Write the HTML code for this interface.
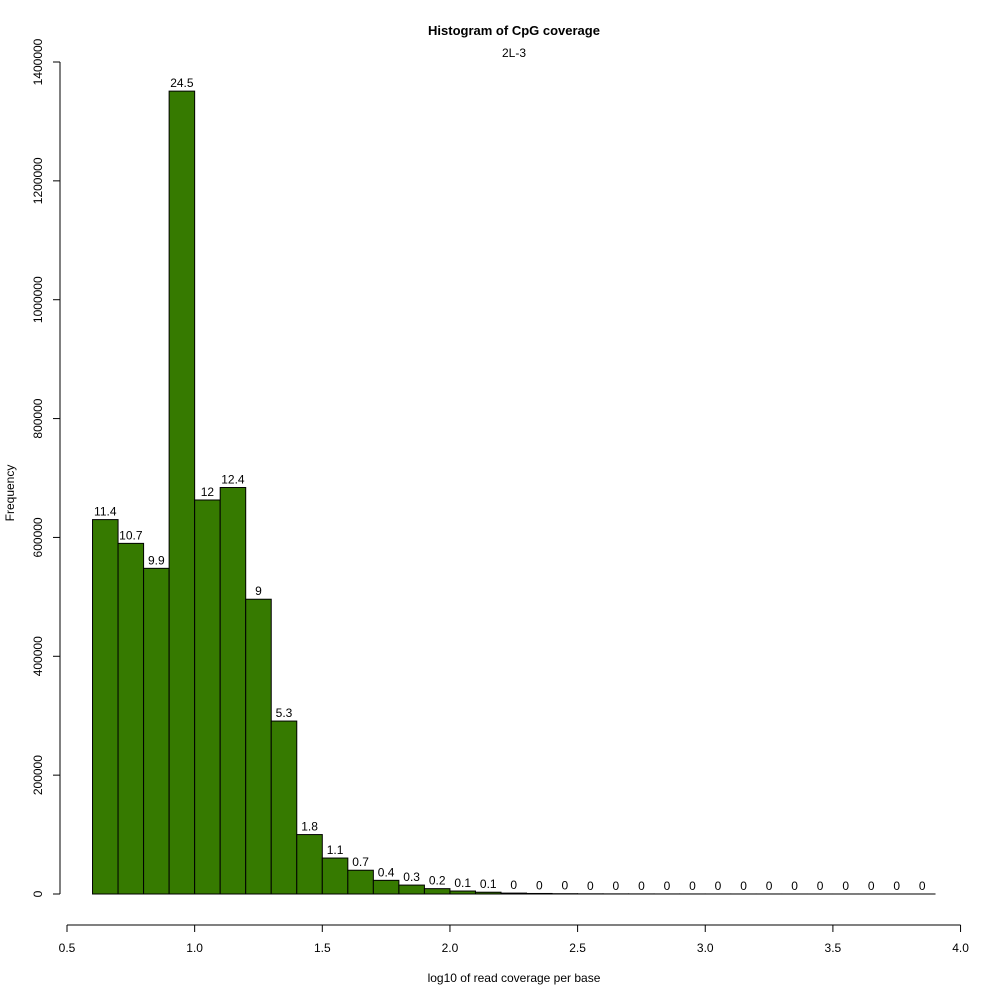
<!DOCTYPE html>
<html><head><meta charset="utf-8"><style>
body{margin:0;background:#fff}
svg text{font-family:"Liberation Sans",Arial,sans-serif;fill:#000}
</style></head><body>
<svg id="chart" width="1000" height="1000" xmlns="http://www.w3.org/2000/svg">
<rect width="1000" height="1000" fill="#fff"/>
<text x="514" y="35" font-size="13" font-weight="bold" text-anchor="middle">Histogram of CpG coverage</text>
<text x="514" y="57" font-size="12" text-anchor="middle">2L-3</text>
<text x="514" y="982" font-size="12" text-anchor="middle">log10 of read coverage per base</text>
<text x="0" y="0" font-size="12" text-anchor="middle" transform="translate(14,493) rotate(-90)">Frequency</text>
<g id="bars"></g><g id="labels"></g><g id="xaxis"></g><g id="yaxis"></g>
</svg>
<script>
const binStarts=[0.6,0.7,0.8,0.9,1.0,1.1,1.2,1.3,1.4,1.5,1.6,1.7,1.8,1.9,2.0,2.1,2.2,2.3,2.4,2.5,2.6,2.7,2.8,2.9,3.0,3.1,3.2,3.3,3.4,3.5,3.6,3.7,3.8];
const counts=[630000,590000,548000,1351000,663000,684000,496000,291000,100000,60500,40000,23000,15000,9000,5000,3000,1500,900,500,300,200,150,100,80,60,50,40,30,20,15,10,8,5];
const pctLabels=["11.4","10.7","9.9","24.5","12","12.4","9","5.3","1.8","1.1","0.7","0.4","0.3","0.2","0.1","0.1","0","0","0","0","0","0","0","0","0","0","0","0","0","0","0","0","0"];
const xTicks=["0.5","1.0","1.5","2.0","2.5","3.0","3.5","4.0"];
const yTicks=[0,200000,400000,600000,800000,1000000,1200000,1400000];
const binWidth=0.1;
const NS="http://www.w3.org/2000/svg";
const xs=v=>67+(v-0.5)*255.3;
const ys=v=>894-v/1400000*832;
function mk(t,a,p){const e=document.createElementNS(NS,t);for(const k in a)e.setAttribute(k,a[k]);p.appendChild(e);return e;}
const gb=document.getElementById('bars'),gl=document.getElementById('labels'),gx=document.getElementById('xaxis'),gy=document.getElementById('yaxis');
binStarts.forEach((s,i)=>{
 const x0=xs(s),x1=xs(s+binWidth),y=ys(counts[i]);
 const r=mk('rect',{x:x0,y:y,width:x1-x0,height:894-y,fill:'#367a00',stroke:'#000','stroke-width':1},gb);
 
 
 const t=mk('text',{x:(x0+x1)/2,y:y-4,'font-size':12,'text-anchor':'middle'},gl);
 t.textContent=pctLabels[i];
 
 
});
mk('line',{x1:xs(0.5),x2:xs(4.0),y1:925,y2:925,stroke:'#000'},gx);
xTicks.forEach(l=>{const v=parseFloat(l);
 mk('line',{x1:xs(v),x2:xs(v),y1:925,y2:932,stroke:'#000'},gx);
 const t=mk('text',{x:xs(v),y:952,'font-size':12,'text-anchor':'middle'},gx);t.textContent=l;
 
 
});
mk('line',{x1:60,x2:60,y1:ys(0),y2:ys(1400000),stroke:'#000'},gy);
yTicks.forEach(v=>{
 mk('line',{x1:53,x2:60,y1:ys(v),y2:ys(v),stroke:'#000'},gy);
 const t=mk('text',{x:0,y:0,'font-size':12,'text-anchor':'middle',transform:`translate(42,${ys(v)}) rotate(-90)`},gy);t.textContent=String(v);
 
 
});
</script>
</body></html>
